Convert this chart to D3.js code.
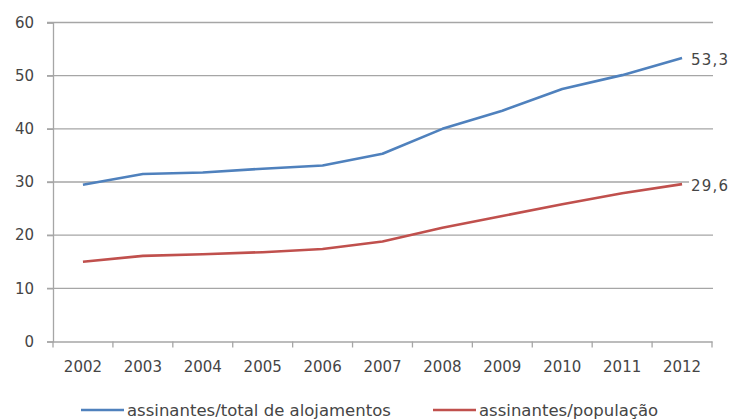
<!DOCTYPE html>
<html><head><meta charset="utf-8">
<script src="https://cdn.jsdelivr.net/npm/d3@7"></script>
<style>body{margin:0;background:#fff}text{font-family:"DejaVu Sans",sans-serif;fill:#454545}</style>
</head><body><svg id="c" width="733" height="419"></svg>
<script>
const years = ["2002","2003","2004","2005","2006","2007","2008","2009","2010","2011","2012"];
const alojamentos = [29.5,31.5,31.8,32.5,33.1,35.3,40.0,43.4,47.5,50.1,53.3];
const populacao = [15.0,16.1,16.4,16.8,17.4,18.8,21.4,23.6,25.8,27.9,29.6];
const yTicks = [0,10,20,30,40,50,60];
const seriesNames = ["assinantes/total de alojamentos","assinantes/população"];
const endLabels = ["53,3","29,6"];
const colors = ["#4f81bd","#c0504d"];

(function(){
const svg = d3.select("#c");
const mL = 53, mR = 712, mT = 22.5, mB = 341.5;
const fs = 15;
const x = d3.scaleBand().domain(years).range([mL,mR]);
const y = d3.scaleLinear().domain([0,60]).range([mB,mT]);

// gridlines
svg.append("g").selectAll("line").data(yTicks.filter(d=>d>0)).join("line")
  .attr("x1",mL-6).attr("x2",mR+1).attr("y1",d=>y(d)).attr("y2",d=>y(d))
  .attr("stroke","#a6a6a6").attr("stroke-width",1.3);

// y axis
const ya = svg.append("g").attr("transform",`translate(${mL},0)`)
  .call(d3.axisLeft(y).tickValues(yTicks).tickSize(6).tickPadding(13));
ya.select(".domain").attr("stroke","#a6a6a6").attr("stroke-width",1.3);
ya.selectAll(".tick line").attr("stroke","#a6a6a6").attr("stroke-width",1.3);
ya.selectAll("text").attr("font-size",fs).attr("font-family","DejaVu Sans").attr("fill","#454545");

// x axis
const xa = svg.append("g").attr("transform",`translate(0,${mB})`)
  .call(d3.axisBottom(x).tickSize(0).tickPadding(20));
xa.select(".domain").attr("stroke","#a6a6a6").attr("stroke-width",1.3);
xa.selectAll("text").attr("font-size",fs).attr("font-family","DejaVu Sans").attr("fill","#454545");
const bounds = years.map(d=>x(d)).concat([mR]);
svg.append("g").selectAll("line").data(bounds).join("line")
  .attr("x1",d=>d).attr("x2",d=>d).attr("y1",mB).attr("y2",mB+6)
  .attr("stroke","#a6a6a6").attr("stroke-width",1.3);

const line = d3.line().x((d,i)=>x(years[i])+x.bandwidth()/2).y(d=>y(d));
[alojamentos,populacao].forEach((s,k)=>{
  svg.append("path").datum(s).attr("d",line).attr("fill","none")
    .attr("stroke",colors[k]).attr("stroke-width",2.6).attr("stroke-linejoin","round");
  const lx = x(years[10])+x.bandwidth()/2+9, ly = y(s[10])+2;
  svg.append("rect").attr("x",lx-2).attr("y",ly-9).attr("width",44).attr("height",18).attr("fill","#fff");
  svg.append("text").attr("x",lx).attr("y",ly).attr("letter-spacing",1.2)
    .attr("dy","0.35em").attr("font-size",fs).text(endLabels[k]);
});

// legend
const legX = [81,433];
seriesNames.forEach((n,k)=>{
  svg.append("line").attr("x1",legX[k]).attr("x2",legX[k]+43).attr("y1",410).attr("y2",410)
    .attr("stroke",colors[k]).attr("stroke-width",2.6);
  svg.append("text").attr("x",legX[k]+46).attr("y",410).attr("dy","0.35em")
    .attr("font-size",16.5).text(n);
});
})();
</script></body></html>
